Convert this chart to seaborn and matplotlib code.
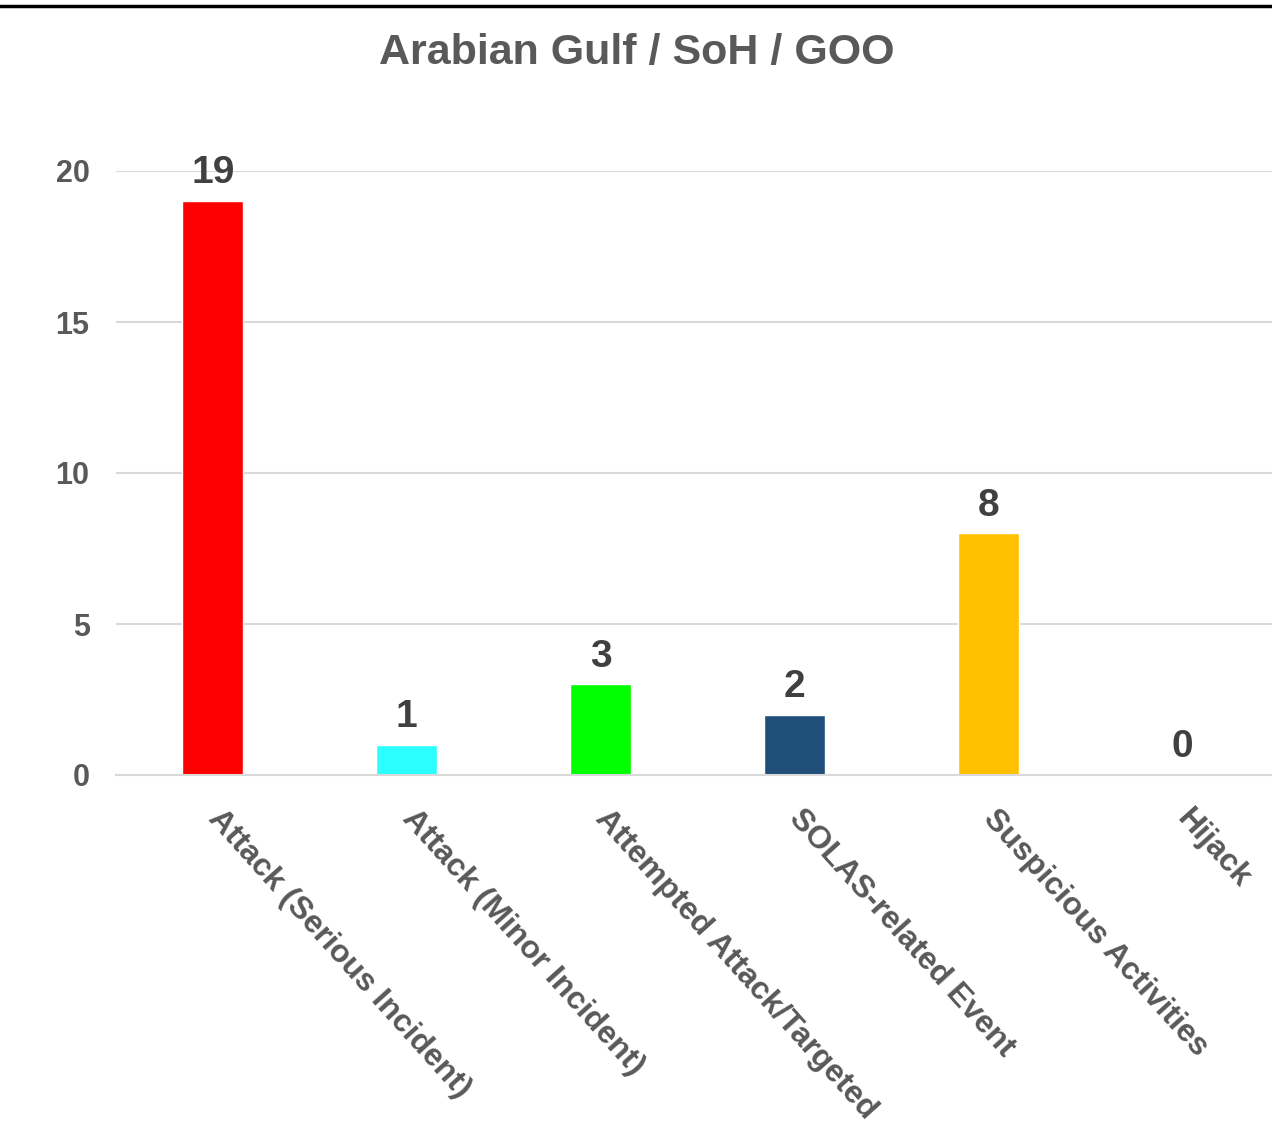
import pandas as pd
import matplotlib.pyplot as plt
import seaborn as sns
from matplotlib.lines import Line2D

categories = ['Attack (Serious Incident)', 'Attack (Minor Incident)', 'Attempted Attack/Targeted',
              'SOLAS-related Event', 'Suspicious Activities', 'Hijack']
counts = [19, 1, 3, 2, 8, 0]
colors = ['#FF0000', '#2BFFFF', '#00FF00', '#1F4E79', '#FFC000', '#A5A5A5']

df = pd.DataFrame({'category': categories, 'count': counts})

sns.set_style('white')
plt.rcParams['font.family'] = ['Liberation Sans', 'DejaVu Sans']

fig = plt.figure(figsize=(12.72, 11.25), dpi=100)
ax = fig.add_axes([116 / 1272, 1 - 775 / 1125, 1163 / 1272, 604 / 1125])

sns.barplot(data=df, x='category', y='count', hue='category', palette=colors,
            legend=False, width=0.315, ax=ax, saturation=1)

# value labels
for cont in ax.containers:
    ax.bar_label(cont, padding=7, fontsize=28, fontweight='bold', color='#404040')

ax.set_ylim(0, 20)
ax.set_xlim(-0.5, 5.5)
ax.set_yticks([0, 5, 10, 15, 20])
ax.yaxis.grid(True, color='#D9D9D9', linewidth=1.5)
ax.set_axisbelow(True)
for s in ['top', 'right', 'left']:
    ax.spines[s].set_visible(False)
ax.spines['bottom'].set_color('#D9D9D9')
ax.spines['bottom'].set_linewidth(1.5)

ax.tick_params(axis='y', length=0, pad=19, labelsize=22, labelcolor='#595959')
for t in ax.get_yticklabels():
    t.set_fontweight('bold')

# category boundary ticks
ax.set_xticks([i - 0.5 for i in range(7)], minor=True)
ax.tick_params(axis='x', which='minor', length=8, width=1.5, color='#D9D9D9', direction='out')
ax.tick_params(axis='x', which='major', length=0, pad=28)
ax.set_xticks(range(len(categories)))
ax.set_xticklabels(categories, rotation=-48, ha='left', va='center', rotation_mode='anchor',
                   fontsize=23, fontweight='bold', color='#595959')
ax.set_xlabel('')
ax.set_ylabel('')

fig.text(637 / 1272, 1 - 53 / 1125, 'Arabian Gulf / SoH / GOO', ha='center', va='center',
         fontsize=31, fontweight='bold', color='#595959')

fig.add_artist(Line2D([0, 1], [1 - 6 / 1125, 1 - 6 / 1125], color='black', linewidth=2.5,
                      transform=fig.transFigure))

fig.savefig('out.png', dpi=100)
